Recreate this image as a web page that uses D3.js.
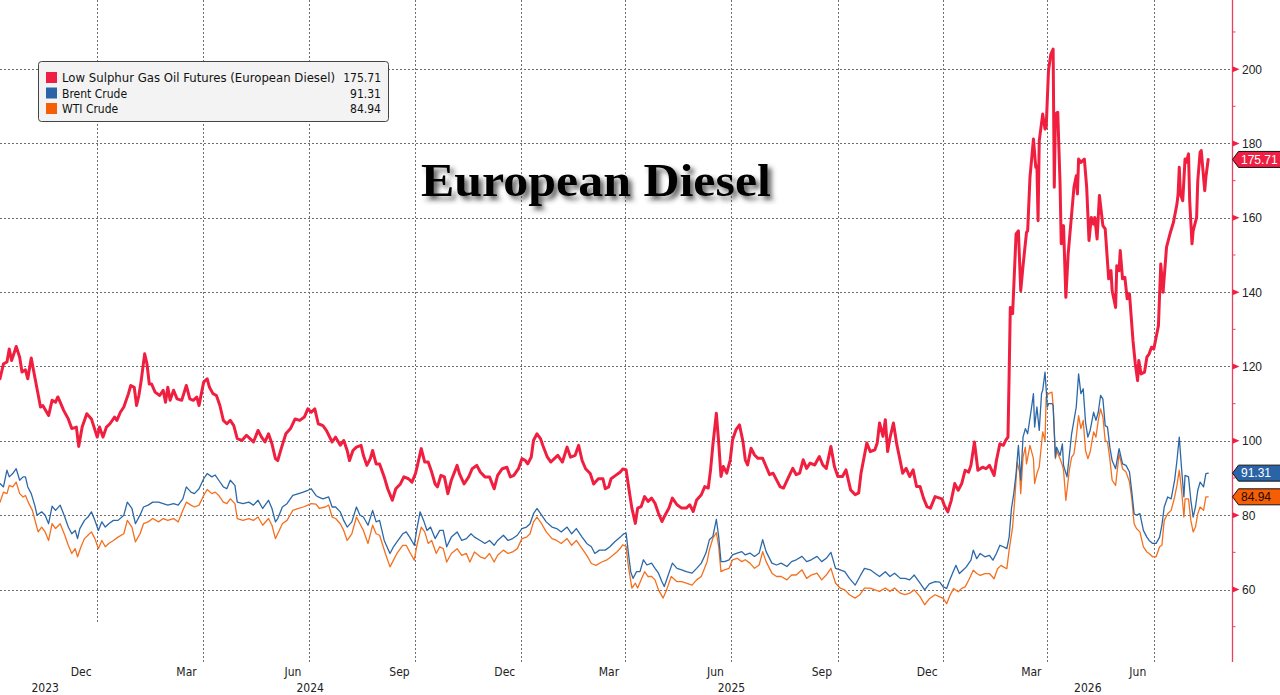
<!DOCTYPE html>
<html><head><meta charset="utf-8">
<script src="https://cdn.jsdelivr.net/npm/d3@7/dist/d3.min.js"></script>
<style>
html,body{margin:0;padding:0;background:#fff;overflow:hidden}
svg{display:block}
text{font-family:"Liberation Sans",Arial,sans-serif}
</style></head><body>
<script>
// ---------- DATA ----------
const startDate = new Date(2023, 8, 8); // day 0
const endDate = new Date(2026, 7, 8);
const seriesNames = ["Low Sulphur Gas Oil Futures (European Diesel)", "Brent Crude", "WTI Crude"];
const lastValues = [175.71, 91.31, 84.94];
const yTicks = [60, 80, 100, 120, 140, 160, 180, 200];
const yMinorTicks = [50, 70, 90, 110, 130, 150, 170, 190, 210];
const monthTicks = [["Dec", 2023, 11], ["Mar", 2024, 2], ["Jun", 2024, 5], ["Sep", 2024, 8], ["Dec", 2024, 11],
  ["Mar", 2025, 2], ["Jun", 2025, 5], ["Sep", 2025, 8], ["Dec", 2025, 11], ["Mar", 2026, 2], ["Jun", 2026, 5]];
const yearLabels = [["2023", 2023, 9, 17], ["2024", 2024, 5, 2], ["2025", 2025, 5, 1], ["2026", 2026, 3, 5]];

// [day since start, value]
const dieselData = [[0,116.7],[3,120.7],[6,121.2],[8,124.7],[10,121.6],[12,123.4],[14,125.4],[17,122.5],[19,118.5],[22,119.1],[24,116.7],[27,122.3],[29,118.9],[32,114],[35,109.1],[37,109.5],[42,106.8],[45,110.9],[48,110.4],[50,111.8],[52,110.4],[55,108.2],[59,105.9],[62,103.3],[66,103.7],[68,98.5],[71,103.7],[75,107.3],[79,105.9],[84,101],[86,103.7],[89,101],[92,103.7],[95,104.6],[99,106.4],[101,105.5],[104,107.7],[107,109.1],[111,112.7],[113,114.9],[116,114.4],[118,109.5],[120,112.2],[122,116.2],[125,123.4],[127,120.7],[129,115.3],[131,115.3],[134,113.1],[138,112.2],[141,113.6],[143,110.4],[145,114.4],[147,110.9],[150,113.6],[153,111.3],[157,110.9],[161,114.9],[164,111.3],[167,110.9],[170,111.8],[172,109.5],[174,112.7],[176,115.8],[179,116.7],[181,114.4],[184,112.7],[187,112.2],[190,109.5],[193,105.5],[196,104.6],[199,105.5],[202,104.1],[205,100.6],[209,100.1],[213,101.5],[216,100.6],[219,99.7],[223,102.8],[226,101],[229,99.7],[232,101.9],[235,99.2],[238,95.2],[240,94.7],[243,97.9],[247,101.9],[251,103.3],[255,105.9],[259,105.5],[263,106.4],[266,108.6],[269,107.7],[272,108.6],[275,104.6],[279,104.1],[282,102.8],[287,99.7],[290,101],[294,98.8],[297,100.1],[300,97.4],[302,94.7],[305,97.4],[308,98.3],[312,98.8],[314,96.1],[317,93.4],[320,95.2],[322,97.4],[325,93.8],[328,93.8],[332,90.3],[335,87.1],[339,84],[342,87.1],[346,88.4],[349,90.3],[353,89.8],[356,88.9],[359,91.2],[361,93.8],[364,97.9],[367,94.3],[370,94.3],[373,91.6],[376,88.4],[378,87.6],[381,90.7],[384,90.3],[387,85.8],[390,89.4],[395,93.4],[397,91.2],[401,88.4],[405,90.3],[408,92.5],[412,93.4],[415,91.6],[419,90.3],[423,90.3],[427,87.1],[430,90.7],[434,92.5],[438,92.9],[441,90.3],[444,90.7],[448,92.5],[451,95.2],[454,94.7],[456,93.8],[459,95.6],[461,100.1],[464,101.9],[467,100.6],[469,98.8],[473,95.6],[476,94.3],[479,95.2],[482,96.1],[486,94.3],[490,98.3],[493,95.6],[497,96.1],[500,98.8],[503,94.7],[506,92.5],[510,91.2],[513,88.4],[517,89.8],[521,89.8],[523,87.1],[526,87.6],[528,89.8],[532,90.7],[536,91.6],[538,92.4],[541,92.2],[544,85.9],[546,81.9],[549,77.8],[551,81.9],[554,82.3],[557,85],[560,83.7],[563,84.6],[566,83.2],[569,80.5],[572,78.3],[574,79.6],[578,81.9],[581,84.6],[585,82.8],[589,81.9],[593,81.9],[596,82.8],[599,81],[602,84.1],[606,85.5],[609,87.7],[612,87.3],[614,92.2],[616,98.9],[619,107.4],[621,99.6],[623,90.4],[625,93.1],[628,91.3],[631,94.9],[633,100.3],[636,103],[639,104.3],[642,99.8],[644,94.9],[646,93.5],[649,98],[652,96.2],[655,95.3],[659,95.3],[662,93.1],[665,90.9],[668,91.3],[671,89.5],[674,87.7],[677,87.3],[681,90],[685,92.6],[688,90.9],[691,91.3],[694,94.9],[697,92.6],[700,94],[704,93.5],[708,95.8],[711,93.5],[714,92.6],[718,98.5],[721,93.1],[724,90.4],[728,90.4],[731,92.2],[735,86.8],[739,85.5],[742,86],[744,91.3],[749,99.4],[752,97.1],[756,97.6],[758,99.4],[760,104.8],[763,101.2],[765,105.7],[767,97.1],[769,100.7],[772,104.8],[775,98.9],[778,94.4],[780,91.3],[783,92.6],[786,90.4],[789,92.2],[792,87.7],[795,87.7],[798,84.6],[801,82.3],[804,81.9],[808,85],[814,84.4],[816,82.6],[819,80.9],[822,84],[825,88.5],[828,86.7],[831,88.5],[834,92.1],[837,91.6],[839,93.4],[842,99.7],[845,92.1],[849,92.9],[852,92.5],[855,93.4],[859,90.7],[861,94.7],[864,99.2],[867,98.8],[869,100.1],[871,101],[872,118],[873,135.9],[875,134.2],[878,155.7],[880,156.5],[882,140.4],[884,147.1],[887,156.1],[888,156.5],[890,170.9],[893,181.2],[895,173.6],[896,174],[897,159.2],[898,180.7],[901,187.9],[903,183.9],[904,184.3],[906,199.6],[908,204],[910,205.4],[911,168.2],[912,187.9],[914,188.4],[916,169.1],[917,153],[919,157.9],[921,138.6],[923,150.3],[926,161],[928,168.2],[930,171.3],[931,166.4],[932,175.8],[934,174.9],[937,175.8],[939,168.2],[941,153.9],[943,160.1],[945,158.3],[946,160.1],[948,154.3],[950,166],[953,157.9],[955,157],[958,143.6],[960,145.8],[961,140.4],[964,135.9],[965,147.1],[967,145.8],[968,151.2],[970,143.6],[972,144],[974,138.2],[976,139.5],[979,127],[981,120.7],[983,116.2],[984,121.6],[986,118],[989,118.5],[991,122.5],[993,123.4],[995,125.2],[997,124.7],[1001,131],[1003,147.6],[1005,140],[1008,152.1],[1011,155.7],[1014,158.8],[1017,163.7],[1018,166.4],[1019,173.6],[1020,166.4],[1022,164.6],[1024,175.8],[1025,174.9],[1027,177.2],[1028,164.6],[1030,153],[1031,156.5],[1034,160.1],[1035,170],[1037,177.6],[1038,178.1],[1040,170.9],[1041,167.3],[1042,170.9],[1044,175.71]];

const brentData = [[0,88.5],[3,87.6],[6,92.1],[8,90.3],[11,91.2],[14,92.5],[17,89.4],[20,90.3],[22,90.3],[24,87.6],[27,85.8],[30,82.7],[32,80],[36,80.9],[39,80],[42,77.7],[45,82.4],[48,81.3],[52,82.7],[56,79.5],[59,76.8],[62,75],[65,75.9],[67,73.7],[69,76.4],[73,78.6],[76,79.5],[79,80.9],[82,78.6],[85,75.9],[88,78.2],[91,76.8],[94,77.7],[98,78.6],[102,78.6],[107,80],[110,83.5],[114,81.8],[117,77.7],[121,80],[124,82.2],[128,82.7],[132,83.5],[137,83.5],[141,83.1],[145,82.7],[150,83.1],[154,82.7],[158,84.4],[161,87.6],[165,86.2],[168,85.8],[172,87.1],[176,89.8],[179,91.2],[183,90.3],[186,90.8],[189,89.4],[193,87.6],[196,87.1],[199,89.4],[203,88],[205,83.5],[210,83.1],[215,83.5],[219,82.7],[223,84],[227,81.8],[232,84],[235,81.8],[238,78.2],[240,79.1],[244,82.2],[248,83.1],[253,85.3],[258,85.8],[262,86.2],[266,86.7],[269,87.1],[273,85.3],[275,84.9],[279,84.4],[284,84.9],[287,82.2],[290,82.2],[294,80.9],[297,78.6],[300,76.8],[304,78.2],[308,82.2],[311,80],[314,79.5],[318,77.3],[322,81.3],[325,78.2],[328,78.6],[332,73.2],[337,69.7],[340,71.5],[343,72.8],[348,75],[351,75.5],[354,74.1],[358,71.9],[360,75.9],[363,80.9],[366,78.6],[369,75.9],[372,76.8],[376,73.7],[380,75.9],[383,75.9],[386,71.5],[390,74.1],[395,75.5],[399,73.2],[403,73.7],[407,75],[410,74.1],[415,73.2],[419,72.4],[423,73.2],[427,71.9],[430,73.2],[435,74.6],[439,73.2],[443,73.7],[447,74.6],[451,76.4],[455,76.8],[458,77.7],[461,80.4],[464,81.8],[468,80],[472,78.2],[477,76.8],[481,76.4],[485,75.5],[490,76.8],[494,75],[498,76.4],[503,74.1],[507,72.4],[511,71.5],[514,69.7],[518,70.6],[523,70.6],[527,71.5],[531,72.8],[536,74.1],[539,75],[541,75.2],[543,69.8],[545,64.8],[547,63],[550,64.8],[553,64.8],[556,68],[559,66.6],[563,67.1],[566,65.7],[569,64.4],[572,62.1],[574,60.8],[577,63.5],[581,67.1],[585,65.7],[589,65.3],[593,64.8],[598,64.4],[602,65.7],[606,67.1],[610,69.8],[613,73.4],[616,74.3],[619,78.9],[621,74.3],[623,67.5],[626,67.5],[630,68],[633,69.3],[637,69.8],[641,70.2],[644,69.3],[648,69.8],[652,68.9],[656,69.8],[659,73.4],[662,70.2],[667,67.1],[671,66.6],[675,67.1],[680,66.2],[684,67.5],[688,68],[693,68.9],[697,67.5],[701,68],[706,68.9],[710,67.5],[714,68.4],[718,70],[722,65.7],[726,65.3],[730,64.8],[734,63],[739,61.2],[743,63.5],[747,65.7],[752,65.3],[756,64.4],[760,63.5],[765,64.8],[769,63.5],[773,64.4],[778,63],[782,63],[786,62.6],[790,63.9],[795,61.7],[799,59.9],[803,61.5],[808,62.1],[812,62],[815,60.7],[818,60.3],[820,62],[823,64.3],[826,66.5],[829,64.3],[832,65.2],[835,66.1],[839,67.9],[841,70.6],[844,68.3],[847,69.7],[851,68.8],[855,69.2],[858,67.9],[861,69.7],[864,71.9],[867,71.5],[870,71],[872,74.1],[874,81.8],[876,85.8],[878,91.2],[880,98.8],[882,89.4],[884,101],[886,103.3],[888,101.9],[891,108.2],[893,112.7],[894,103.7],[896,109.1],[898,102.8],[900,112.7],[901,113.6],[903,118.5],[905,109.1],[906,110],[909,110],[910,109.5],[912,95.6],[913,98.3],[916,96.1],[918,99.2],[919,93.4],[922,90.3],[924,96.1],[926,101.9],[928,105.5],[930,109.1],[932,118],[934,112.7],[936,114],[938,105],[940,101],[942,102.8],[945,107.7],[947,105.5],[949,107.7],[951,112.2],[953,111.3],[955,104.1],[957,103.7],[959,98.3],[961,94.7],[964,92.5],[967,97.9],[970,93.8],[973,93.4],[976,91.6],[978,86.2],[980,80.4],[982,80],[985,80.4],[988,75.9],[991,74.1],[993,73.2],[996,72.4],[999,72.4],[1002,74.1],[1004,77.3],[1006,82.2],[1009,84.9],[1012,84.4],[1015,89.4],[1017,94.7],[1019,101],[1021,92.5],[1023,84.9],[1024,90.7],[1027,90.3],[1029,84],[1031,79.5],[1033,82.2],[1035,86.7],[1037,88.9],[1040,87.6],[1042,91.2],[1044,91.31]];

const wtiData = [[0,83.5],[3,86.2],[6,85.8],[8,88],[11,87.6],[14,88.9],[17,85.8],[20,84.9],[22,85.3],[25,83.1],[28,81.3],[31,77.7],[33,75.5],[36,76.8],[39,75.5],[42,73.2],[45,77.7],[48,76.4],[52,77.7],[56,74.6],[59,71.9],[62,69.7],[65,71],[67,68.8],[70,71.5],[73,73.7],[76,74.6],[79,75.5],[82,73.7],[85,71],[88,73.2],[91,71.5],[94,72.4],[98,73.2],[102,74.1],[107,75],[110,78.6],[114,76.8],[117,72.8],[121,75],[124,77.7],[128,78.2],[132,79.1],[137,78.2],[141,79.1],[145,78.6],[150,79.1],[154,78.2],[158,81.3],[161,83.5],[165,82.7],[168,82.2],[172,82.7],[176,85.3],[179,86.9],[183,85.8],[186,86.2],[189,85.3],[193,83.5],[196,83.1],[199,84.4],[203,83.1],[205,79.1],[210,78.6],[215,79.1],[219,78.6],[223,79.5],[227,77.3],[232,79.1],[235,77.3],[238,73.7],[240,75],[244,77.7],[248,78.6],[253,81.3],[258,81.8],[262,82.2],[266,82.7],[269,83.1],[273,83],[276,81.8],[281,82.2],[284,82.7],[287,79.5],[290,79.1],[294,77.7],[297,75.9],[300,73.2],[304,75],[308,79.5],[311,77.7],[314,75.9],[318,72.4],[322,77.3],[325,75],[328,74.6],[333,69.7],[337,66.1],[340,67.9],[343,69.7],[348,71.9],[351,71.9],[354,70.1],[358,67.9],[360,71.5],[364,76.8],[367,75.5],[370,72.4],[373,73.2],[377,69.7],[380,71.5],[383,71],[386,67.4],[390,69.7],[395,71],[399,69.2],[403,69.7],[406,67.4],[410,70.1],[415,68.8],[419,68.3],[423,69.7],[427,67.4],[430,69.2],[435,70.6],[439,69.7],[443,70.1],[447,71],[451,73.7],[455,74.1],[458,75],[461,78.2],[464,79.5],[468,77.7],[472,75.5],[477,73.7],[481,73.2],[485,72.4],[490,73.7],[494,71.9],[498,73.2],[503,71],[507,69.2],[511,67],[515,66.5],[520,67.4],[524,67.9],[528,68.8],[533,70.1],[536,71.1],[538,72],[541,71.6],[543,66.2],[546,60.4],[549,61.7],[551,60.4],[554,62.6],[557,64.8],[560,63.5],[563,63.5],[566,62.6],[569,59.9],[573,57.7],[576,59.9],[580,63.5],[585,62.1],[589,62.1],[593,61.7],[598,61.2],[602,62.6],[606,63.5],[611,67.5],[613,70.7],[616,73.8],[619,75.3],[621,71.6],[623,64.8],[626,65.3],[630,65.7],[633,68],[637,68.4],[641,67.5],[644,68],[648,67.1],[652,65.7],[656,66.6],[659,70.2],[662,67.5],[667,64.4],[671,63.5],[675,63.5],[680,62.6],[684,63.9],[688,63.9],[693,65.3],[697,63],[701,63.9],[706,64.4],[710,62.6],[714,63.9],[718,65.7],[722,61.7],[726,60.4],[730,59.9],[734,58.6],[739,57.7],[743,58.6],[747,60.4],[752,60.4],[756,59.9],[760,59.5],[765,60.4],[769,59.5],[773,60.4],[778,59],[782,58.6],[786,59],[790,59.9],[795,58.1],[799,55.9],[803,57.5],[808,58.6],[812,58],[815,57.6],[818,56.2],[821,58.5],[824,60.3],[828,59.4],[831,60.3],[834,60.7],[837,62.5],[841,65.2],[844,64.3],[847,63.8],[851,64.3],[855,64.3],[859,62.9],[862,65.6],[865,66.5],[867,66.1],[870,65.6],[872,70.6],[875,76.8],[877,84.9],[879,94.3],[881,91.6],[882,85.8],[884,95.6],[886,98.3],[887,93.8],[890,98.8],[893,95.2],[894,88.5],[896,91.2],[898,93],[901,102.4],[903,100.1],[904,111.8],[906,112.7],[909,113.1],[910,109.5],[912,95.2],[913,97.4],[916,95.2],[918,93.4],[919,92.1],[921,84],[924,92.1],[926,95.6],[928,96.5],[930,101],[932,106.8],[934,103.3],[936,105.5],[938,97.4],[940,95.2],[942,97],[945,102.4],[947,101],[949,105.5],[951,108.6],[953,106.4],[955,100.1],[957,99.7],[959,95.2],[961,89.4],[964,88],[967,96.5],[970,92.5],[973,91.6],[976,88.9],[978,84.4],[980,77.7],[982,76.4],[985,75.5],[988,71.5],[991,70.1],[993,69.7],[996,68.8],[999,68.8],[1002,71.5],[1004,71.9],[1006,78.6],[1009,80.4],[1012,81.3],[1015,84.9],[1017,88],[1019,92.1],[1021,86.7],[1023,79.5],[1024,84.4],[1027,84.4],[1029,78.6],[1031,75.5],[1033,76.8],[1035,80.4],[1037,82.2],[1040,81.3],[1042,84.9],[1044,84.94]];

// ---------- STYLE ----------
const colors = ["#f01f40", "#2c68a8", "#f4701f"];
const tagFill = ["#ef1f44", "#2a64a6", "#f55e05"];
const tagText = ["#ffffff", "#ffffff", "#1a0a00"];
const W = 1280, H = 695;
const axisX = 1232.5, plotBottom = 662;
const labelFont = "'DejaVu Sans Condensed','DejaVu Sans',sans-serif";
const numFont = "'Liberation Sans',Arial,sans-serif";

const svg = d3.select("body").append("svg").attr("width", W).attr("height", H);
svg.append("rect").attr("width", W).attr("height", H).attr("fill", "#fff");

const x = d3.scaleTime().domain([startDate, endDate]).range([0, axisX]);
const y = d3.scaleLinear().domain([40.5, 218.6]).range([plotBottom, 0]);
const dayToDate = d => d3.timeDay.offset(startDate, d);

// grid
const grid = svg.append("g");
grid.selectAll("line.h").data(yTicks).join("line")
  .attr("x1", 0).attr("x2", axisX).attr("y1", d => Math.round(y(d)) + 0.5).attr("y2", d => Math.round(y(d)) + 0.5)
  .attr("stroke", "#6e6e6e").attr("stroke-width", 1).attr("stroke-dasharray", "2,2");
grid.selectAll("line.v").data(monthTicks).join("line")
  .attr("x1", d => Math.round(x(new Date(d[1], d[2], 1))) + 0.5)
  .attr("x2", d => Math.round(x(new Date(d[1], d[2], 1))) + 0.5)
  .attr("y1", 0).attr("y2", (d, i) => i === 0 ? 623 : plotBottom)
  .attr("stroke", "#6e6e6e").attr("stroke-width", 1).attr("stroke-dasharray", "2,2");

// month + year labels
svg.selectAll("text.m").data(monthTicks).join("text")
  .attr("x", d => x(new Date(d[1], d[2], 1)) - 16).attr("y", 676)
  .attr("text-anchor", "middle").attr("font-size", 12).attr("fill", "#222")
  .style("font-family", labelFont)
  .text(d => d[0]);
svg.selectAll("text.yr").data(yearLabels).join("text")
  .attr("x", d => x(new Date(d[1], d[2], d[3]))).attr("y", 692)
  .attr("text-anchor", "middle").attr("font-size", 12).attr("fill", "#222")
  .style("font-family", labelFont)
  .text(d => d[0]);

// title with shadow
const defs = svg.append("defs");
const f = defs.append("filter").attr("id", "sh").attr("x", "-10%").attr("y", "-30%").attr("width", "130%").attr("height", "170%");
f.append("feDropShadow").attr("dx", 4).attr("dy", 4).attr("stdDeviation", 2.6)
  .attr("flood-color", "#333").attr("flood-opacity", 0.75);
svg.append("text").attr("x", 421).attr("y", 196)
  .attr("font-size", 47).attr("font-weight", "bold").attr("fill", "#000")
  .attr("textLength", 350).attr("lengthAdjust", "spacingAndGlyphs")
  .style("font-family", "'Liberation Serif','Times New Roman',serif")
  .attr("filter", "url(#sh)")
  .text("European Diesel");

// lines
const line = d3.line().x(d => x(dayToDate(d[0]))).y(d => y(d[1]));
const allData = [dieselData, brentData, wtiData];
const widths = [3, 1.3, 1.3];
[2, 1, 0].forEach(i => {
  svg.append("path").datum(allData[i]).attr("d", line)
    .attr("fill", "none").attr("stroke", colors[i]).attr("stroke-width", widths[i])
    .attr("stroke-linejoin", "round").attr("stroke-linecap", "round");
});

// right axis
const ax = svg.append("g");
ax.append("line").attr("x1", axisX).attr("x2", axisX).attr("y1", 0).attr("y2", plotBottom)
  .attr("stroke", "#e8435e").attr("stroke-width", 1.3);
ax.selectAll("path.tk").data(yTicks).join("path")
  .attr("d", d => `M${axisX},${y(d) - 3}L${axisX + 7},${y(d)}L${axisX},${y(d) + 3}Z`)
  .attr("fill", "#ef1f44");
ax.selectAll("line.mn").data(yMinorTicks).join("line")
  .attr("x1", axisX).attr("x2", axisX + 3).attr("y1", d => y(d)).attr("y2", d => y(d))
  .attr("stroke", "#e8435e").attr("stroke-width", 1);
ax.selectAll("text.tl").data(yTicks).join("text")
  .attr("x", 1242).attr("y", d => y(d) + 4.5).attr("font-size", 12).attr("fill", "#222")
  .style("font-family", numFont)
  .text(d => d);

// value tags
lastValues.forEach((v, i) => {
  const yc = y(v);
  const g = svg.append("g");
  g.append("path").attr("d", `M${axisX},${yc}L${axisX + 6},${yc - 8}L1281,${yc - 8}L1281,${yc + 8}L${axisX + 6},${yc + 8}Z`)
    .attr("fill", tagFill[i]).attr("stroke", "#111").attr("stroke-width", 1);
  g.append("text").attr("x", 1241).attr("y", yc + 4.3).attr("font-size", 12).attr("fill", tagText[i])
    .style("font-family", numFont)
    .text(v.toFixed(2));
});

// legend
const lg = svg.append("g");
lg.append("rect").attr("x", 38.5).attr("y", 61.5).attr("width", 350).attr("height", 60).attr("rx", 3)
  .attr("fill", "#f3f3f3").attr("stroke", "#444").attr("stroke-width", 1);
const rowY = [77.5, 93, 108.5];
seriesNames.forEach((n, i) => {
  lg.append("rect").attr("x", 46).attr("y", rowY[i] - 5.5).attr("width", 11).attr("height", 11).attr("fill", tagFill[i]);
  lg.append("text").attr("x", 62).attr("y", rowY[i] + 4.5).attr("font-size", 12).attr("fill", "#111")
    .style("font-family", labelFont)
    .attr("textLength", i === 0 ? 273 : null).attr("lengthAdjust", "spacingAndGlyphs")
    .text(n);
  lg.append("text").attr("x", 381).attr("y", rowY[i] + 4.5).attr("font-size", 12).attr("fill", "#111")
    .attr("text-anchor", "end")
    .style("font-family", labelFont)
    .text(lastValues[i].toFixed(2));
});
</script>
</body></html>
